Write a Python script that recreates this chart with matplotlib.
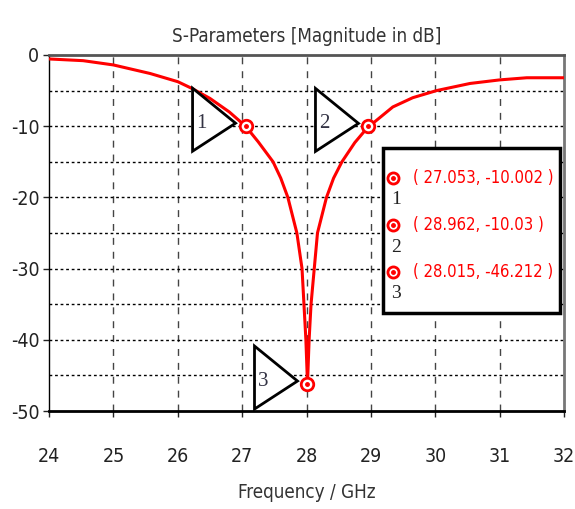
import matplotlib.pyplot as plt
from matplotlib.patches import Polygon, Rectangle

# S11 curve
freq = [24.0, 24.53, 25.0, 25.57, 26.0, 26.22, 26.5, 26.8, 27.053, 27.25, 27.48,
        27.6, 27.71, 27.85, 27.93, 27.96, 27.99, 28.015, 28.04, 28.07, 28.12,
        28.17, 28.31, 28.42, 28.55, 28.75, 28.962, 29.03, 29.34, 29.65, 30.02,
        30.54, 31.0, 31.42, 32.0]
s11 = [-0.56, -0.8, -1.4, -2.6, -3.75, -4.7, -6.1, -8.0, -10.0, -12.2, -15.0,
       -17.3, -20.0, -25.0, -30.0, -35.0, -40.0, -46.2, -40.0, -35.0, -30.0,
       -25.0, -20.0, -17.3, -15.0, -12.3, -10.03, -9.6, -7.3, -6.0, -5.0,
       -4.0, -3.5, -3.2, -3.2]

mark_x = [27.053, 28.962, 28.015]
mark_y = [-10.002, -10.03, -46.212]
mark_txt = ['( 27.053, -10.002 )', '( 28.962, -10.03 )', '( 28.015, -46.212 )']

plt.rcParams['font.family'] = ['DejaVu Sans']
plt.rcParams['font.stretch'] = 'condensed'
plt.rcParams['axes.unicode_minus'] = False

fig = plt.figure(figsize=(5.75, 5.09), dpi=100)
ax = fig.add_axes([0.0852, 0.1925, 0.8958, 0.6995])

ax.plot(freq, s11, color='red', lw=2.2, zorder=3)
ax.set_xlim(24, 32)
ax.set_ylim(-50, 0)
ax.set_xticks(range(24, 33))
ax.set_yticks(range(-50, 1, 10))
ax.tick_params(labelsize=14, colors='#222222', length=4, width=1, pad=22)
ax.tick_params(axis='y', pad=3)

# grid: dashed verticals, dotted horizontals every 5 dB
for xv in range(25, 32):
    ax.axvline(xv, color='#444444', lw=1, ls=(0, (5, 5)), zorder=1)
for yv in range(-45, 0, 5):
    ax.axhline(yv, color='black', lw=1, ls=(0, (2, 2)), zorder=1)

for side, lw, col in [('top', 2, '#555555'), ('right', 2, '#777777'),
                      ('left', 1, 'black'), ('bottom', 2, 'black')]:
    ax.spines[side].set_linewidth(lw)
    ax.spines[side].set_color(col)

ax.set_title('S-Parameters [Magnitude in dB]', fontsize=13.5, color='#333333', pad=9)
ax.set_xlabel('Frequency / GHz', fontsize=13.5, color='#333333', labelpad=12)

# markers with triangle flags
fig.canvas.draw()
for i, (mx, my) in enumerate(zip(mark_x, mark_y)):
    ax.plot(mx, my, 'o', ms=9, mfc='white', mec='red', mew=2, zorder=5)
    ax.plot(mx, my, 'o', ms=2.5, color='red', zorder=6)
    base = ax.transData.transform((mx, my))
    tri = Polygon([(base[0] + dx, base[1] + dy) for dx, dy in [(-10, 3), (-53, 38), (-53, -25)]],
                  closed=True, fc='white', ec='black', lw=2, zorder=4, transform=None)
    fig.patches.append(tri)
    fig.text((base[0] - 44) / fig.bbox.width, (base[1] + 3) / fig.bbox.height, str(i + 1),
             fontsize=15, family=['Liberation Serif', 'DejaVu Serif'], color='#333344',
             ha='center', va='center', zorder=6)

# marker readout box
box = Rectangle((383 / 575, 1 - 313 / 509), 177 / 575, 165 / 509, transform=fig.transFigure,
                fc='white', ec='black', lw=2.5, zorder=7)
fig.patches.append(box)
for i, t in enumerate(mark_txt):
    yy = 1 - (178 + 47 * i) / 509
    fig.lines.append(plt.Line2D([393 / 575], [yy], marker='o', ms=8, mfc='white', mec='red',
                                mew=2, transform=fig.transFigure, zorder=8))
    fig.lines.append(plt.Line2D([393 / 575], [yy], marker='o', ms=2.5, color='red',
                                transform=fig.transFigure, zorder=9))
    fig.text(413 / 575, yy, t, color='red', fontsize=12, ha='left', va='center', zorder=9)
    fig.text(396 / 575, yy - 22 / 509, str(i + 1), color='#222222', fontsize=14,
             family=['Liberation Serif', 'DejaVu Serif'], ha='center', va='center', zorder=9)

fig.savefig('out.png', dpi=100)
